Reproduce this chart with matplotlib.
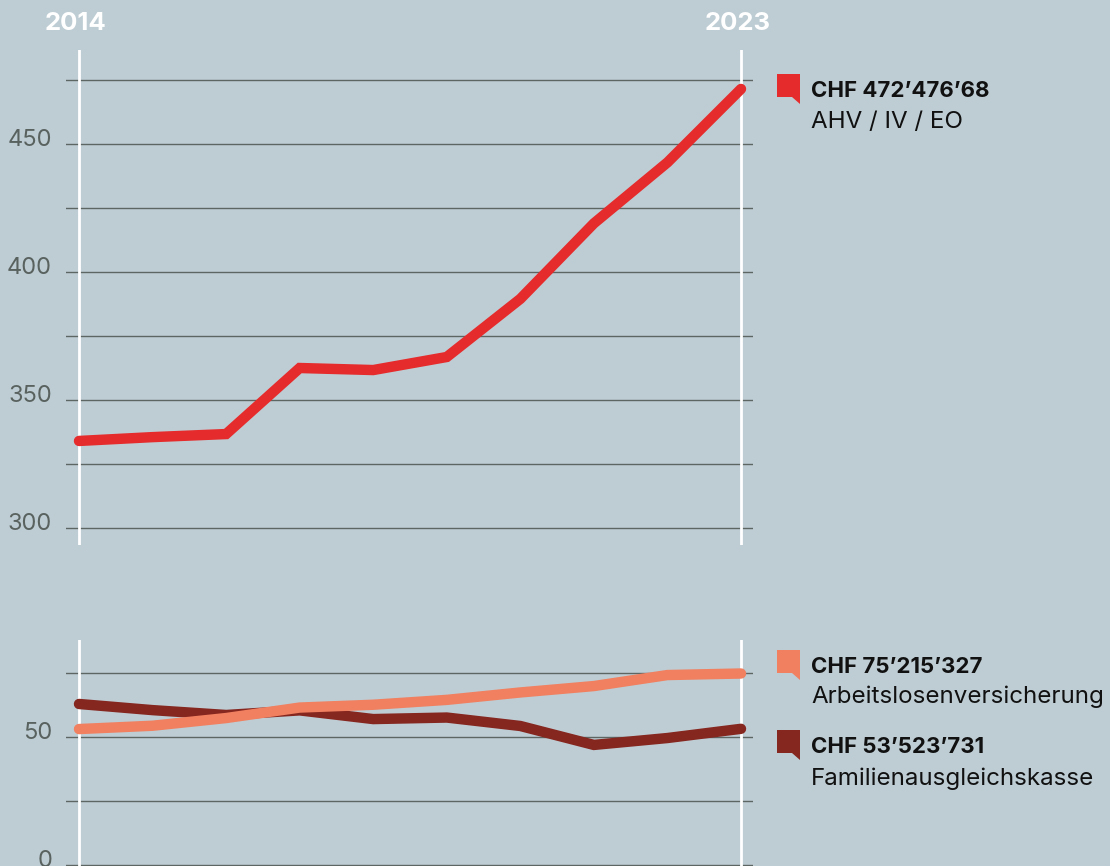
import matplotlib
matplotlib.use("Agg")
import matplotlib.pyplot as plt
from matplotlib.patches import Polygon
from matplotlib import transforms

plt.rcParams['font.family'] = ['Inter', 'DejaVu Sans']

# ---------------- data ----------------
years = [2014, 2015, 2016, 2017, 2018, 2019, 2020, 2021, 2022, 2023]
ahv = [334.0, 335.5, 336.7, 362.5, 361.7, 366.8, 389.5, 419.0, 442.8, 471.5]
alv = [53.1, 54.4, 57.4, 61.5, 62.6, 64.5, 67.4, 69.9, 74.2, 74.8]
fak = [62.9, 60.5, 58.6, 60.4, 57.0, 57.6, 54.3, 46.9, 49.6, 53.2]

top_ticks = [300, 325, 350, 375, 400, 425, 450, 475]
top_labels = ['300', '', '350', '', '400', '', '450', '']
bot_ticks = [0, 25, 50, 75]
bot_labels = ['0', '', '50', '']

legend_values = ["CHF 472’476’68", "CHF 75’215’327", "CHF 53’523’731"]
legend_names = ["AHV / IV / EO", "Arbeitslosenversicherung", "Familienausgleichskasse"]

# ---------------- style ----------------
BG = '#BECDD4'
RED = '#E52B2B'
SALMON = '#F08060'
DARK = '#85261F'
GRID = '#5E6664'
TICK = '#59625F'

W, H = 1110, 866
fig = plt.figure(figsize=(W / 100, H / 100), dpi=100, facecolor=BG)


def fx(px):
    return px / W


def fy(py):
    return 1 - py / H


x0, x1 = 66, 753
px_per_year = (741 - 79) / 9
xlim = (2014 - (79 - x0) / px_per_year, 2023 + (x1 - 741) / px_per_year)

ax_top = fig.add_axes([fx(x0), fy(545), fx(x1) - fx(x0), fy(50) - fy(545)])
ax_bot = fig.add_axes([fx(x0), 0, fx(x1) - fx(x0), fy(640)])

ax_top.set_ylim(300 - (545 - 528) / 2.56, 300 + (528 - 50) / 2.56)
ax_bot.set_ylim(-(866 - 865) / 2.56, (865 - 640) / 2.56)

shift = transforms.ScaledTranslation(0, -2 / 100, fig.dpi_scale_trans)
for ax, ticks, labels in [(ax_top, top_ticks, top_labels), (ax_bot, bot_ticks, bot_labels)]:
    ax.set_facecolor(BG)
    ax.set_xlim(*xlim)
    for s in ax.spines.values():
        s.set_visible(False)
    ax.set_xticks([])
    ax.set_yticks(ticks, labels)
    ax.tick_params(axis='y', length=0, pad=10, labelsize=17, labelcolor=TICK)
    for lbl in ax.get_yticklabels():
        lbl.set_verticalalignment('baseline')
        lbl.set_transform(lbl.get_transform() + shift)
    for t in ticks:
        ax.axhline(t, color=GRID, lw=1.0, zorder=1)
    for yr in (years[0], years[-1]):
        ax.axvline(yr, color='white', lw=2.0, zorder=2)

lw = 7.5
ax_top.plot(years, ahv, color=RED, lw=lw, solid_capstyle='round',
            solid_joinstyle='miter', zorder=5, clip_on=False)
ax_bot.plot(years, fak, color=DARK, lw=lw, solid_capstyle='round',
            solid_joinstyle='miter', zorder=5, clip_on=False)
ax_bot.plot(years, alv, color=SALMON, lw=lw, solid_capstyle='round',
            solid_joinstyle='miter', zorder=6, clip_on=False)

# year labels
trans = transforms.blended_transform_factory(ax_top.transData, fig.transFigure)
left_shift = transforms.ScaledTranslation(-3 / 100, 0, fig.dpi_scale_trans)
for yr in (years[0], years[-1]):
    ax_top.text(yr, fy(23), str(yr), transform=trans + left_shift, ha='center',
                va='center', color='white', fontsize=18.5, fontweight='bold')

# legend entries
colors = [RED, SALMON, DARK]
marker_tops = [74, 650, 730]
val_base = [97, 673, 753]
name_base = [128, 703, 785]
for c, mt, vb, nb, v, n in zip(colors, marker_tops, val_base, name_base,
                                legend_values, legend_names):
    pts = [(777, mt), (800, mt), (800, mt + 30), (792, mt + 23), (777, mt + 23)]
    fig.add_artist(Polygon([(fx(a), fy(b)) for a, b in pts], closed=True,
                           transform=fig.transFigure, facecolor=c, edgecolor='none'))
    fig.text(fx(811), fy(vb), v, ha='left', va='baseline', fontsize=16,
             fontweight='bold', color='#111111')
    fig.text(fx(811), fy(nb), n, ha='left', va='baseline', fontsize=17.4,
             color='#111111')

fig.savefig('out.png', dpi=100, facecolor=BG)
